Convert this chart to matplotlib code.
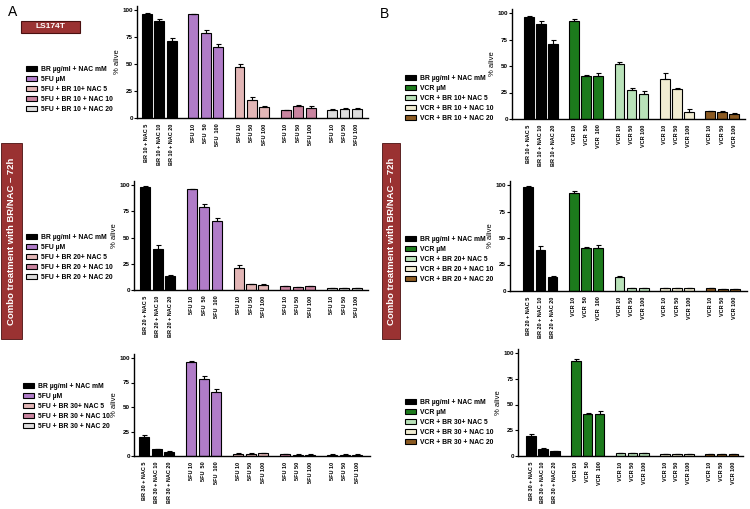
"""
Viability of LS174T cells after combo treatment with BR/NAC (72h),
with 5FU (panel A) and VCR (panel B).
"""

import matplotlib.pyplot as plt
from matplotlib.patches import Patch, Rectangle
import numpy as np

plt.rcParams['font.family'] = ['Liberation Sans', 'DejaVu Sans']

W, H = 750, 509

BR_DOSES = [10, 20, 30]
NAC_DOSES = [5, 10, 20]
DRUG_DOSES = [10, 50, 100]

# BR + NAC alone, one row per BR dose
br_nac = [[96, 90, 71], [98.5, 39, 13], [19, 7, 4.5]]
br_nac_err = [[1, 2, 3.5], [0.5, 3.5, 1], [2.5, 0.5, 0.5]]

# drug alone
fu_alone = [96, 79, 65.5]
fu_alone_err = [0.5, 2.5, 3]
vcr_alone = [92, 40.5, 40.5]
vcr_alone_err = [2, 1, 3]

# drug + BR + NAC 5/10/20, one block per BR dose
fu_combo = [
    [[47, 17, 10], [7, 11, 9.5], [7, 8, 8.5]],
    [[21, 5.5, 5], [3.5, 3, 3.5], [1.5, 2, 1.5]],
    [[2.5, 2.5, 3], [2, 1.5, 1.5], [1.5, 1.5, 1.5]],
]
fu_combo_err = [
    [[3, 2, 1], [0.5, 1.5, 1.5], [1, 1, 1]],
    [[3, 0.5, 0.5], [0.5, 0.3, 0.3], [0.3, 0.3, 0.3]],
    [[0.3, 0.3, 0.3], [0.3, 0.3, 0.3], [0.3, 0.3, 0.3]],
]
vcr_combo = [
    [[52, 27, 24], [38, 28, 7], [7.5, 7, 5]],
    [[13.5, 3, 2.5], [3, 2.5, 3], [2.5, 2, 2]],
    [[2.5, 2.5, 2.5], [2, 2, 2], [1.5, 1.5, 1.5]],
]
vcr_combo_err = [
    [[2, 2, 2], [5, 1.5, 2], [0.5, 0.5, 0.5]],
    [[1, 0.3, 0.3], [0.3, 0.3, 0.3], [0.3, 0.3, 0.3]],
    [[0.3, 0.3, 0.3], [0.3, 0.3, 0.3], [0.3, 0.3, 0.3]],
]

FU_COLORS = ["black", "#b07cc8", "#e2b6b6", "#c9849f", "#dcdcdc"]
VCR_COLORS = ["black", "#1c7a1c", "#b9e2b9", "#f1ecd2", "#8b5a22"]
BOX_RED = "#9a3232"

# axes boxes in pixels: left, top(100%), right, bottom(0)
A_RECTS = [(137, 10, 368, 118), (134, 185, 368, 290), (134, 358, 370, 456)]
B_RECTS = [(512, 13, 745, 119), (510, 185, 747, 291), (518, 353, 743, 456)]
A_XLIM = [(-0.8, 17.9), (-0.9, 17.9), (-0.8, 18.0)]
B_XLIM = [(-1.4, 17.9), (-1.5, 18.0), (-1.1, 17.8)]
A_LEG = [(26, 66), (26, 234), (23, 383)]
B_LEG = [(405, 75), (405, 236), (405, 399)]


def fig_rect(l, t, r, b):
    return [l / W, 1 - b / H, (r - l) / W, (b - t) / H]


def add_panel(fig, rect, xlim, drug, colors, br, vals_br, err_br,
              vals_drug, err_drug, combo, combo_err):
    l, t100, r, b = rect
    ymax = 104
    top = b - (b - t100) * ymax / 100
    ax = fig.add_axes(fig_rect(l, top, r, b))

    values = [vals_br, vals_drug] + combo
    errors = [err_br, err_drug] + combo_err
    labels = [[f"BR {br} + NAC {n}" for n in NAC_DOSES],
              [f"{drug} 10", f"{drug}  50", f"{drug}  100"]]
    for _ in NAC_DOSES:
        labels.append([f"{drug} {d}" for d in DRUG_DOSES])

    xs, xl = [], []
    for g, (v, e, c, lab) in enumerate(zip(values, errors, colors, labels)):
        x = g * 3.75 + np.arange(3)
        ax.bar(x, v, width=0.8, color=c, edgecolor="black", linewidth=0.8,
               yerr=[np.zeros(3), e], capsize=1.8,
               error_kw=dict(elinewidth=0.8, capthick=0.8, ecolor="black"))
        xs.extend(x)
        xl.extend(lab)

    ax.set_xlim(*xlim)
    ax.set_ylim(0, ymax)
    ax.set_yticks([0, 25, 50, 75, 100])
    ax.set_xticks(xs)
    ax.set_xticklabels(xl, rotation=90, fontsize=4, fontweight="bold")
    ax.tick_params(axis="x", length=0, pad=4)
    ax.tick_params(axis="y", length=2, width=0.8, pad=1, labelsize=4.5)
    for lab in ax.get_yticklabels():
        lab.set_fontweight("bold")
    ax.set_ylabel("% alive", fontsize=5.5, labelpad=1)
    for s in ["top", "right"]:
        ax.spines[s].set_visible(False)
    for s in ["left", "bottom"]:
        ax.spines[s].set_linewidth(1.0)
    return ax


def add_legend(fig, pos, drug, colors, br):
    names = ["BR \u00b5g/ml + NAC mM", f"{drug} \u00b5M",
             f"{drug} + BR {br}+ NAC 5", f"{drug} + BR {br} + NAC 10",
             f"{drug} + BR {br} + NAC 20"]
    handles = [Patch(facecolor=c, edgecolor="black", linewidth=0.8) for c in colors]
    x, y = pos
    fig.legend(handles, names, loc="upper left", bbox_to_anchor=(x / W, 1 - y / H),
               frameon=False, prop=dict(size=4.9, weight="bold"),
               handlelength=1.6, handleheight=0.7, handletextpad=0.6,
               labelspacing=0.45, borderpad=0, borderaxespad=0)


def main():
    fig = plt.figure(figsize=(W / 100, H / 100), dpi=100)

    for i, br in enumerate(BR_DOSES):
        add_panel(fig, A_RECTS[i], A_XLIM[i], "5FU", FU_COLORS, br,
                  br_nac[i], br_nac_err[i], fu_alone, fu_alone_err,
                  fu_combo[i], fu_combo_err[i])
        add_legend(fig, A_LEG[i], "5FU", FU_COLORS, br)
        add_panel(fig, B_RECTS[i], B_XLIM[i], "VCR", VCR_COLORS, br,
                  br_nac[i], br_nac_err[i], vcr_alone, vcr_alone_err,
                  vcr_combo[i], vcr_combo_err[i])
        add_legend(fig, B_LEG[i], "VCR", VCR_COLORS, br)

    fig.text(8 / W, 1 - 12 / H, "A", fontsize=10, va="center", ha="left")
    fig.text(380 / W, 1 - 14 / H, "B", fontsize=10, va="center", ha="left")

    # LS174T tag
    l, t, r, b = 21, 21, 80, 33
    fig.patches.append(Rectangle((l / W, 1 - b / H), (r - l) / W, (b - t) / H,
                                 transform=fig.transFigure, facecolor=BOX_RED,
                                 edgecolor="#4a1010", linewidth=0.8))
    fig.text((l + r) / 2 / W, 1 - (t + b) / 2 / H, "LS174T", color="white",
             fontsize=6, fontweight="bold", ha="center", va="center")

    # vertical treatment tags
    for l, r in [(1, 22), (382, 400)]:
        t, b = 143, 339
        fig.patches.append(Rectangle((l / W, 1 - b / H), (r - l) / W, (b - t) / H,
                                     transform=fig.transFigure, facecolor=BOX_RED,
                                     edgecolor="#4a1010", linewidth=0.6))
        fig.text((l + r) / 2 / W, 1 - (t + b) / 2 / H,
                 "Combo treatment with BR/NAC \u2013 72h", color="white",
                 fontsize=6.8, fontweight="bold", ha="center", va="center",
                 rotation=90)

    fig.savefig("out.png", dpi=100)


if __name__ == "__main__":
    main()
